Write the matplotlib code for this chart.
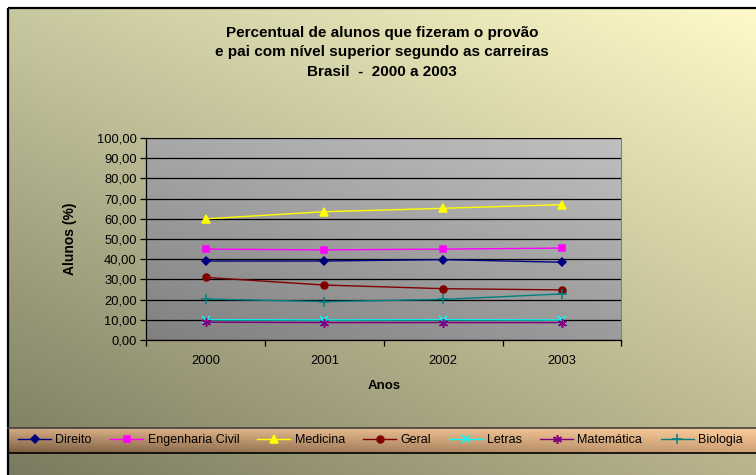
import matplotlib
matplotlib.use("Agg")
import matplotlib.pyplot as plt
import numpy as np
from matplotlib.patches import Rectangle

plt.rcParams["font.family"] = ["Liberation Sans", "DejaVu Sans"]

anos = ["2000", "2001", "2002", "2003"]
direito = [39.1, 39.1, 39.8, 38.5]
eng_civil = [45.0, 44.6, 45.0, 45.5]
medicina = [60.0, 63.5, 65.2, 67.0]
geral = [31.0, 27.2, 25.4, 24.8]
letras = [10.0, 9.9, 10.0, 9.9]
matematica = [8.8, 8.6, 8.6, 8.6]
biologia = [20.3, 19.0, 20.1, 22.8]

W, H = 756, 475


def bilinear(bl, tl, tr, br, n=200, m=200):
    # image rows go top -> bottom
    bl, tl, tr, br = [np.array(c, float) / 255 for c in (bl, tl, tr, br)]
    u = np.linspace(0, 1, m)[None, :, None]
    v = np.linspace(1, 0, n)[:, None, None]
    img = (bl * (1 - u) * (1 - v) + br * u * (1 - v)
           + tl * (1 - u) * v + tr * u * v)
    return np.clip(img, 0, 1)


fig = plt.figure(figsize=(W / 100, H / 100), dpi=100)
fig.patch.set_facecolor("white")

# background layer in pixel coordinates
bg = fig.add_axes([0, 0, 1, 1], zorder=-5)
bg.set_xlim(0, W)
bg.set_ylim(H, 0)
bg.axis("off")
bg.imshow(bilinear((122, 122, 96), (200, 200, 160), (255, 250, 200), (185, 180, 140)),
          extent=(8, W, H, 8), aspect="auto", interpolation="bilinear")
bg.imshow(bilinear((120, 92, 64), (215, 172, 132), (252, 205, 155), (205, 160, 118)),
          extent=(8, W, 453, 428), aspect="auto", interpolation="bilinear")
bg.plot([8, W], [428, 428], color="#404040", lw=1.2)
bg.plot([8, W], [453, 453], color="black", lw=1.2)
bg.add_patch(Rectangle((8, 8), W, H, fill=False, edgecolor="black", lw=1.6))

# plot area
ax = fig.add_axes([146.3 / W, 1 - 340 / H, 475 / W, 202 / H])
ax.set_facecolor("none")
ax.imshow(bilinear((128, 128, 128), (168, 168, 168), (192, 192, 192), (155, 155, 155)),
          extent=(-0.5, 3.5, 0, 100), aspect="auto", zorder=0, interpolation="bilinear")
ax.set_xlim(-0.5, 3.5)
ax.set_ylim(0, 100)

x = np.arange(len(anos))
series = [
    ("Direito", direito, "#000080", "D", 4.5),
    ("Engenharia Civil", eng_civil, "#FF00FF", "s", 5),
    ("Medicina", medicina, "#FFFF00", "^", 6),
    ("Geral", geral, "#800000", "o", 5),
    ("Letras", letras, "#00FFFF", "x", 5.5),
    ("Matemática", matematica, "#800080", (6, 2, 0), 6.5),
    ("Biologia", biologia, "#008080", "+", 6.5),
]
handles = []
for nome, vals, cor, mk, ms in series:
    h, = ax.plot(x, vals, color=cor, marker=mk, markersize=ms, lw=1.0,
                 markeredgecolor=cor, markerfacecolor=cor, markeredgewidth=1.1,
                 label=nome, zorder=3)
    handles.append(h)

yt = np.arange(0, 101, 10)
ax.set_yticks(yt)
ax.set_yticklabels([f"{v:.2f}".replace(".", ",") for v in yt], fontsize=9.3)
ax.yaxis.grid(True, color="black", lw=0.9)
ax.set_axisbelow(False)
for gl in ax.get_ygridlines():
    gl.set_zorder(1)
ax.tick_params(axis="y", direction="out", length=4, width=0.9, pad=3)

ax.set_xticks(x)
ax.set_xticklabels(anos, fontsize=9.3)
ax.set_xticks(np.arange(-0.5, 3.6, 1), minor=True)
ax.tick_params(axis="x", which="major", length=0, pad=11)
ax.tick_params(axis="x", which="minor", direction="out", length=4, width=0.9)

for s in ["top", "right"]:
    ax.spines[s].set_color("#808080")
for s in ["left", "bottom"]:
    ax.spines[s].set_color("black")
    ax.spines[s].set_linewidth(0.9)

ax.set_ylabel("Alunos (%)", fontsize=10, fontweight="bold", labelpad=14)
ax.set_xlabel("Anos", fontsize=9.5, fontweight="bold", labelpad=9)

fig.text(382 / W, 1 - 52 / H,
         "Percentual de alunos que fizeram o provão\n"
         "e pai com nível superior segundo as carreiras\n"
         "Brasil  -  2000 a 2003",
         ha="center", va="center", fontsize=11, fontweight="bold", linespacing=1.5)

fig.legend(handles=handles, loc="center left", bbox_to_anchor=(18 / W, 1 - 440 / H),
           ncol=7, frameon=False, fontsize=9, handlelength=2.65, handletextpad=0.35,
           columnspacing=1.45, borderpad=0, borderaxespad=0)

fig.savefig("out.png", dpi=100)
